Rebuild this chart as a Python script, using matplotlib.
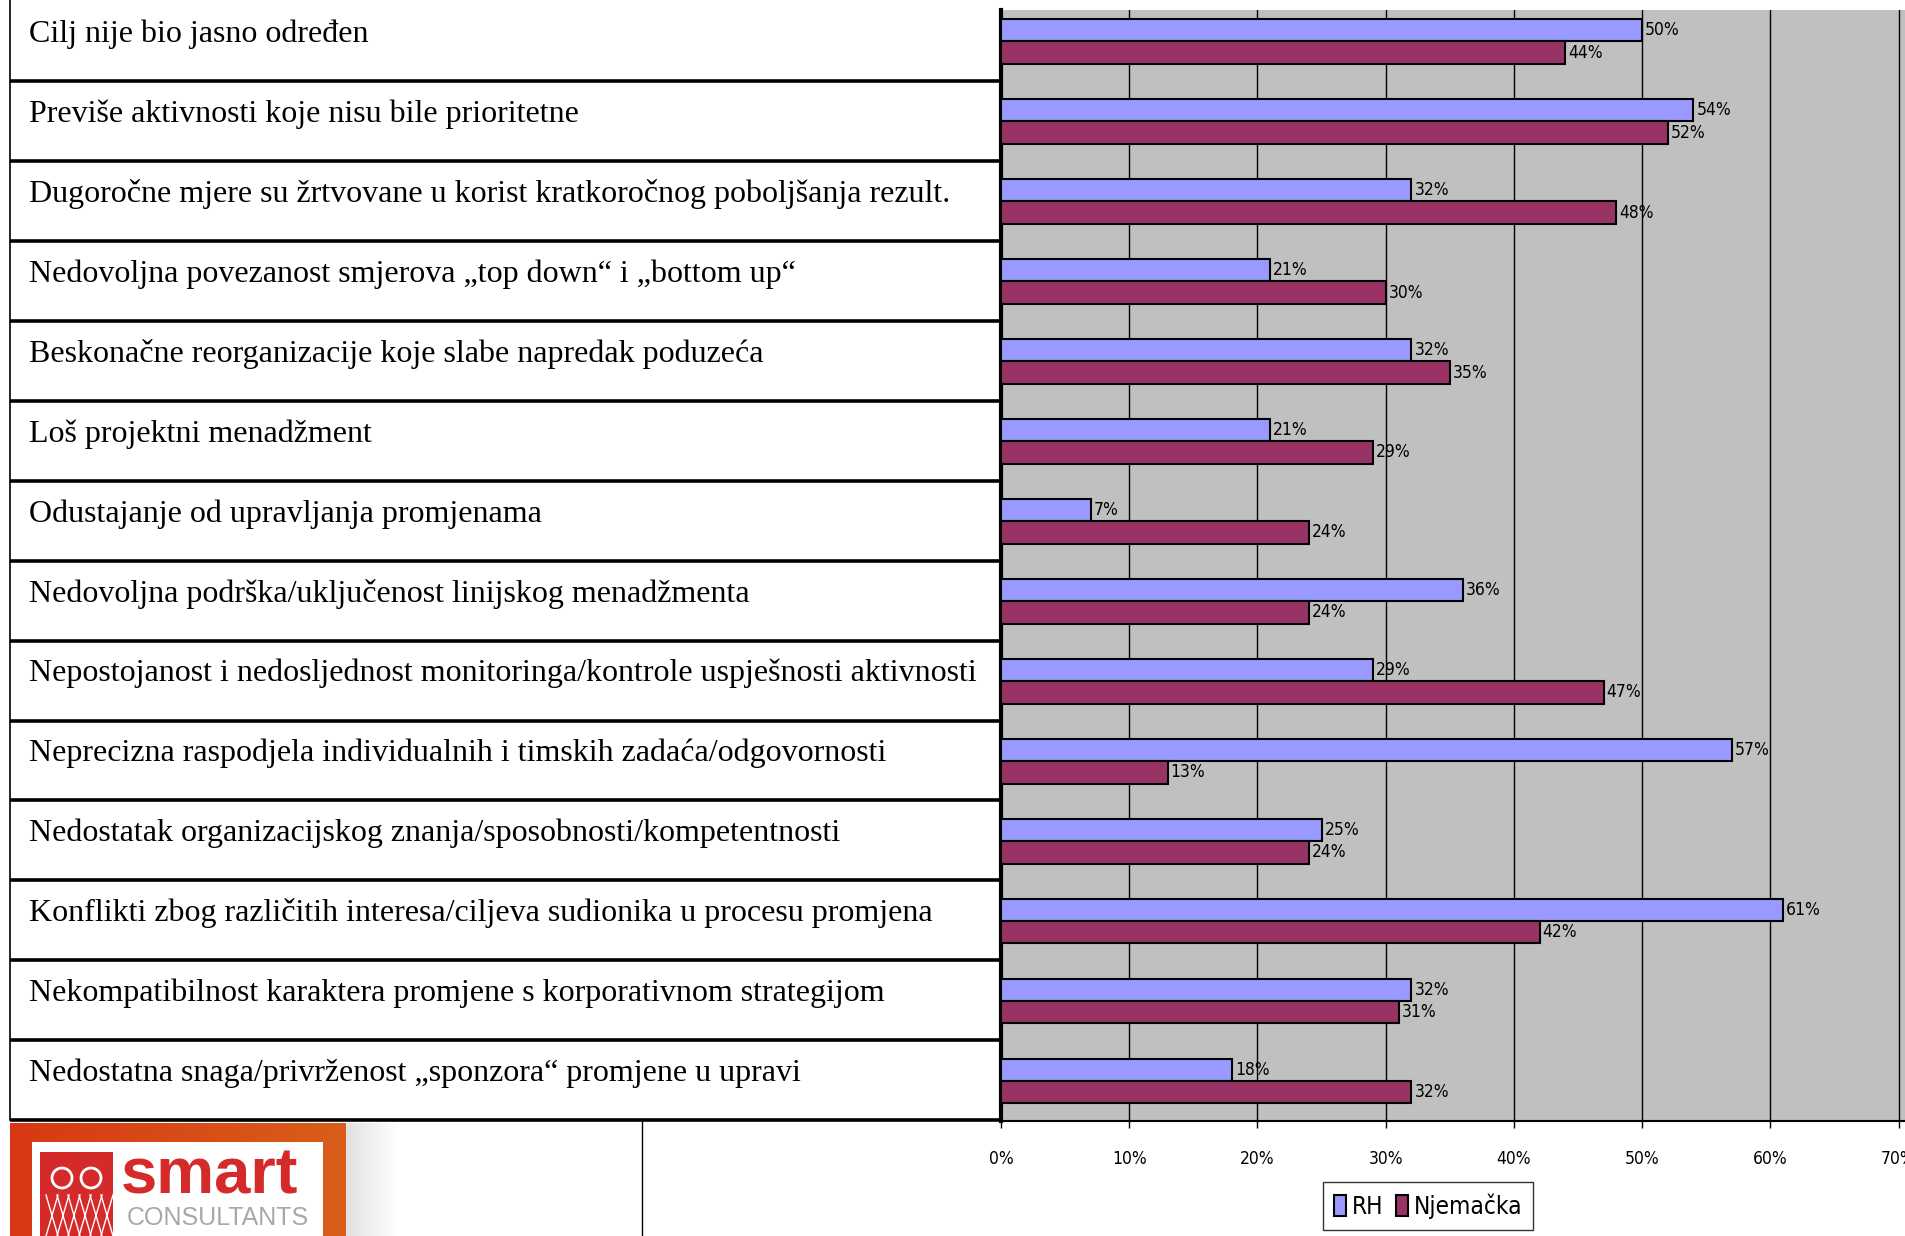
import matplotlib
matplotlib.use("Agg")
import numpy as np
import matplotlib.pyplot as plt
from matplotlib.patches import Rectangle, Circle

# survey answers, one row per reason
categories = [
    "Cilj nije bio jasno određen",
    "Previše aktivnosti koje nisu bile prioritetne",
    "Dugoročne mjere su žrtvovane u korist kratkoročnog poboljšanja rezult.",
    "Nedovoljna povezanost smjerova „top down“ i „bottom up“",
    "Beskonačne reorganizacije koje slabe napredak poduzeća",
    "Loš projektni menadžment",
    "Odustajanje od upravljanja promjenama",
    "Nedovoljna podrška/uključenost linijskog menadžmenta",
    "Nepostojanost i nedosljednost monitoringa/kontrole uspješnosti aktivnosti",
    "Neprecizna raspodjela individualnih i timskih zadaća/odgovornosti",
    "Nedostatak organizacijskog znanja/sposobnosti/kompetentnosti",
    "Konflikti zbog različitih interesa/ciljeva sudionika u procesu promjena",
    "Nekompatibilnost karaktera promjene s korporativnom strategijom",
    "Nedostatna snaga/privrženost „sponzora“ promjene u upravi",
]
rh = [50, 54, 32, 21, 32, 21, 7, 36, 29, 57, 25, 61, 32, 18]
njemacka = [44, 52, 48, 30, 35, 29, 24, 24, 47, 13, 24, 42, 31, 32]
series_names = ["RH", "Njemačka"]
x_ticks = [0, 10, 20, 30, 40, 50, 60, 70]

W, H = 1905, 1236
narrow = ["DejaVu Sans"]
serif = ["Liberation Serif", "DejaVu Serif"]

fig = plt.figure(figsize=(W / 100, H / 100), dpi=100)
fig.patch.set_facecolor("white")

# background layer in pixel coords (table + logo)
bg = fig.add_axes([0, 0, 1, 1], zorder=0)
bg.set_xlim(0, W)
bg.set_ylim(H, 0)
bg.axis("off")

top, bottom = 1.5, 1120
row_h = (bottom - top) / len(categories)
chart_left = 1001

bg.plot([10, 10], [0, bottom], color="black", lw=1.2)
for i, cat in enumerate(categories):
    y0 = top + row_h * i
    bg.plot([10, chart_left], [y0 + row_h, y0 + row_h], color="black", lw=2.6,
            solid_capstyle="butt")
    bg.text(29, y0 + 33, cat, va="center", ha="left", fontsize=23, family=serif)

bg.plot([642, 642], [bottom, H], color="black", lw=1)

# logo
grad = np.linspace(0, 1, 256).reshape(1, -1)
bg.imshow(np.dstack([np.full_like(grad, 0.85), 0.22 + 0.15 * grad, 0.08 + 0.02 * grad]),
          extent=[10, 346, H, 1123], aspect="auto", zorder=1)
shadow = np.dstack([np.zeros((1, 64))] * 3 + [0.12 * (1 - np.linspace(0, 1, 64)).reshape(1, -1)])
bg.imshow(shadow, extent=[346, 400, H, 1123], aspect="auto", zorder=1)
bg.add_patch(Rectangle((32, 1142), 291, 120, facecolor="white", edgecolor="none", zorder=2))
bg.add_patch(Rectangle((40, 1152), 73, 90, facecolor="#d42a2a", edgecolor="none", zorder=3))
for cx in (62, 91):
    bg.add_patch(Circle((cx, 1178), 10, facecolor="none", edgecolor="white", lw=2, zorder=4))
for k in range(6):
    bg.plot([46 + 11 * k, 58 + 11 * k], [1236, 1195], color="white", lw=1, zorder=4)
    bg.plot([58 + 11 * k, 46 + 11 * k], [1236, 1195], color="white", lw=1, zorder=4)
bg.text(121, 1176, "smart", fontsize=47, fontweight="bold", color="#d42a2a",
        family=["Liberation Sans", "DejaVu Sans"], va="center", ha="left", zorder=4)
bg.text(127, 1218, "CONSULTANTS", fontsize=18, color="#a8a8a8",
        family=["Liberation Sans", "DejaVu Sans"], va="center", ha="left", zorder=4)

# chart
ax = fig.add_axes([chart_left / W, 1 - 1121 / H, (W - chart_left) / W, (1121 - 10) / H], zorder=2)
ax.set_facecolor("#c0c0c0")
y = np.arange(len(categories))
bh = 0.28
b1 = ax.barh(y - bh / 2, rh, height=bh, color="#9999ff", edgecolor="black", lw=1.5, zorder=3,
             label=series_names[0])
b2 = ax.barh(y + bh / 2, njemacka, height=bh, color="#993366", edgecolor="black", lw=1.5, zorder=3,
             label=series_names[1])
for bars, vals in ((b1, rh), (b2, njemacka)):
    for bar, v in zip(bars, vals):
        ax.annotate(f"{v}%", (v, bar.get_y() + bar.get_height() / 2), xytext=(3, 0),
                    textcoords="offset pixels", va="center", ha="left", fontsize=12.5,
                    family=narrow, fontstretch="condensed", zorder=4)

ax.set_xlim(0, 70.5)
ax.set_ylim(len(categories) - 0.5, -0.5 + 8.5 / row_h)
ax.set_xticks(x_ticks)
ax.set_xticklabels([f"{t}%" for t in x_ticks], fontsize=12.5, family=narrow, fontstretch="condensed")
ax.set_yticks([])
ax.xaxis.grid(True, color="black", lw=1)
ax.set_axisbelow(True)
ax.tick_params(axis="x", length=5, width=1, pad=16)
ax.spines["left"].set_linewidth(3)
ax.spines["bottom"].set_linewidth(1.5)
ax.spines["top"].set_visible(False)
ax.spines["right"].set_visible(False)

leg = ax.legend(loc="center", bbox_to_anchor=(1428 / W, 1 - 1206 / H), bbox_transform=fig.transFigure,
                ncol=2, frameon=True, fancybox=False,
                prop={"family": narrow, "size": 17.5, "stretch": "condensed"},
                handlelength=0.5, handleheight=1.0, handletextpad=0.25, columnspacing=0.5,
                borderpad=0.45)
leg.get_frame().set_edgecolor("black")
leg.get_frame().set_linewidth(1)

fig.savefig("out.png", dpi=100, facecolor="white")
